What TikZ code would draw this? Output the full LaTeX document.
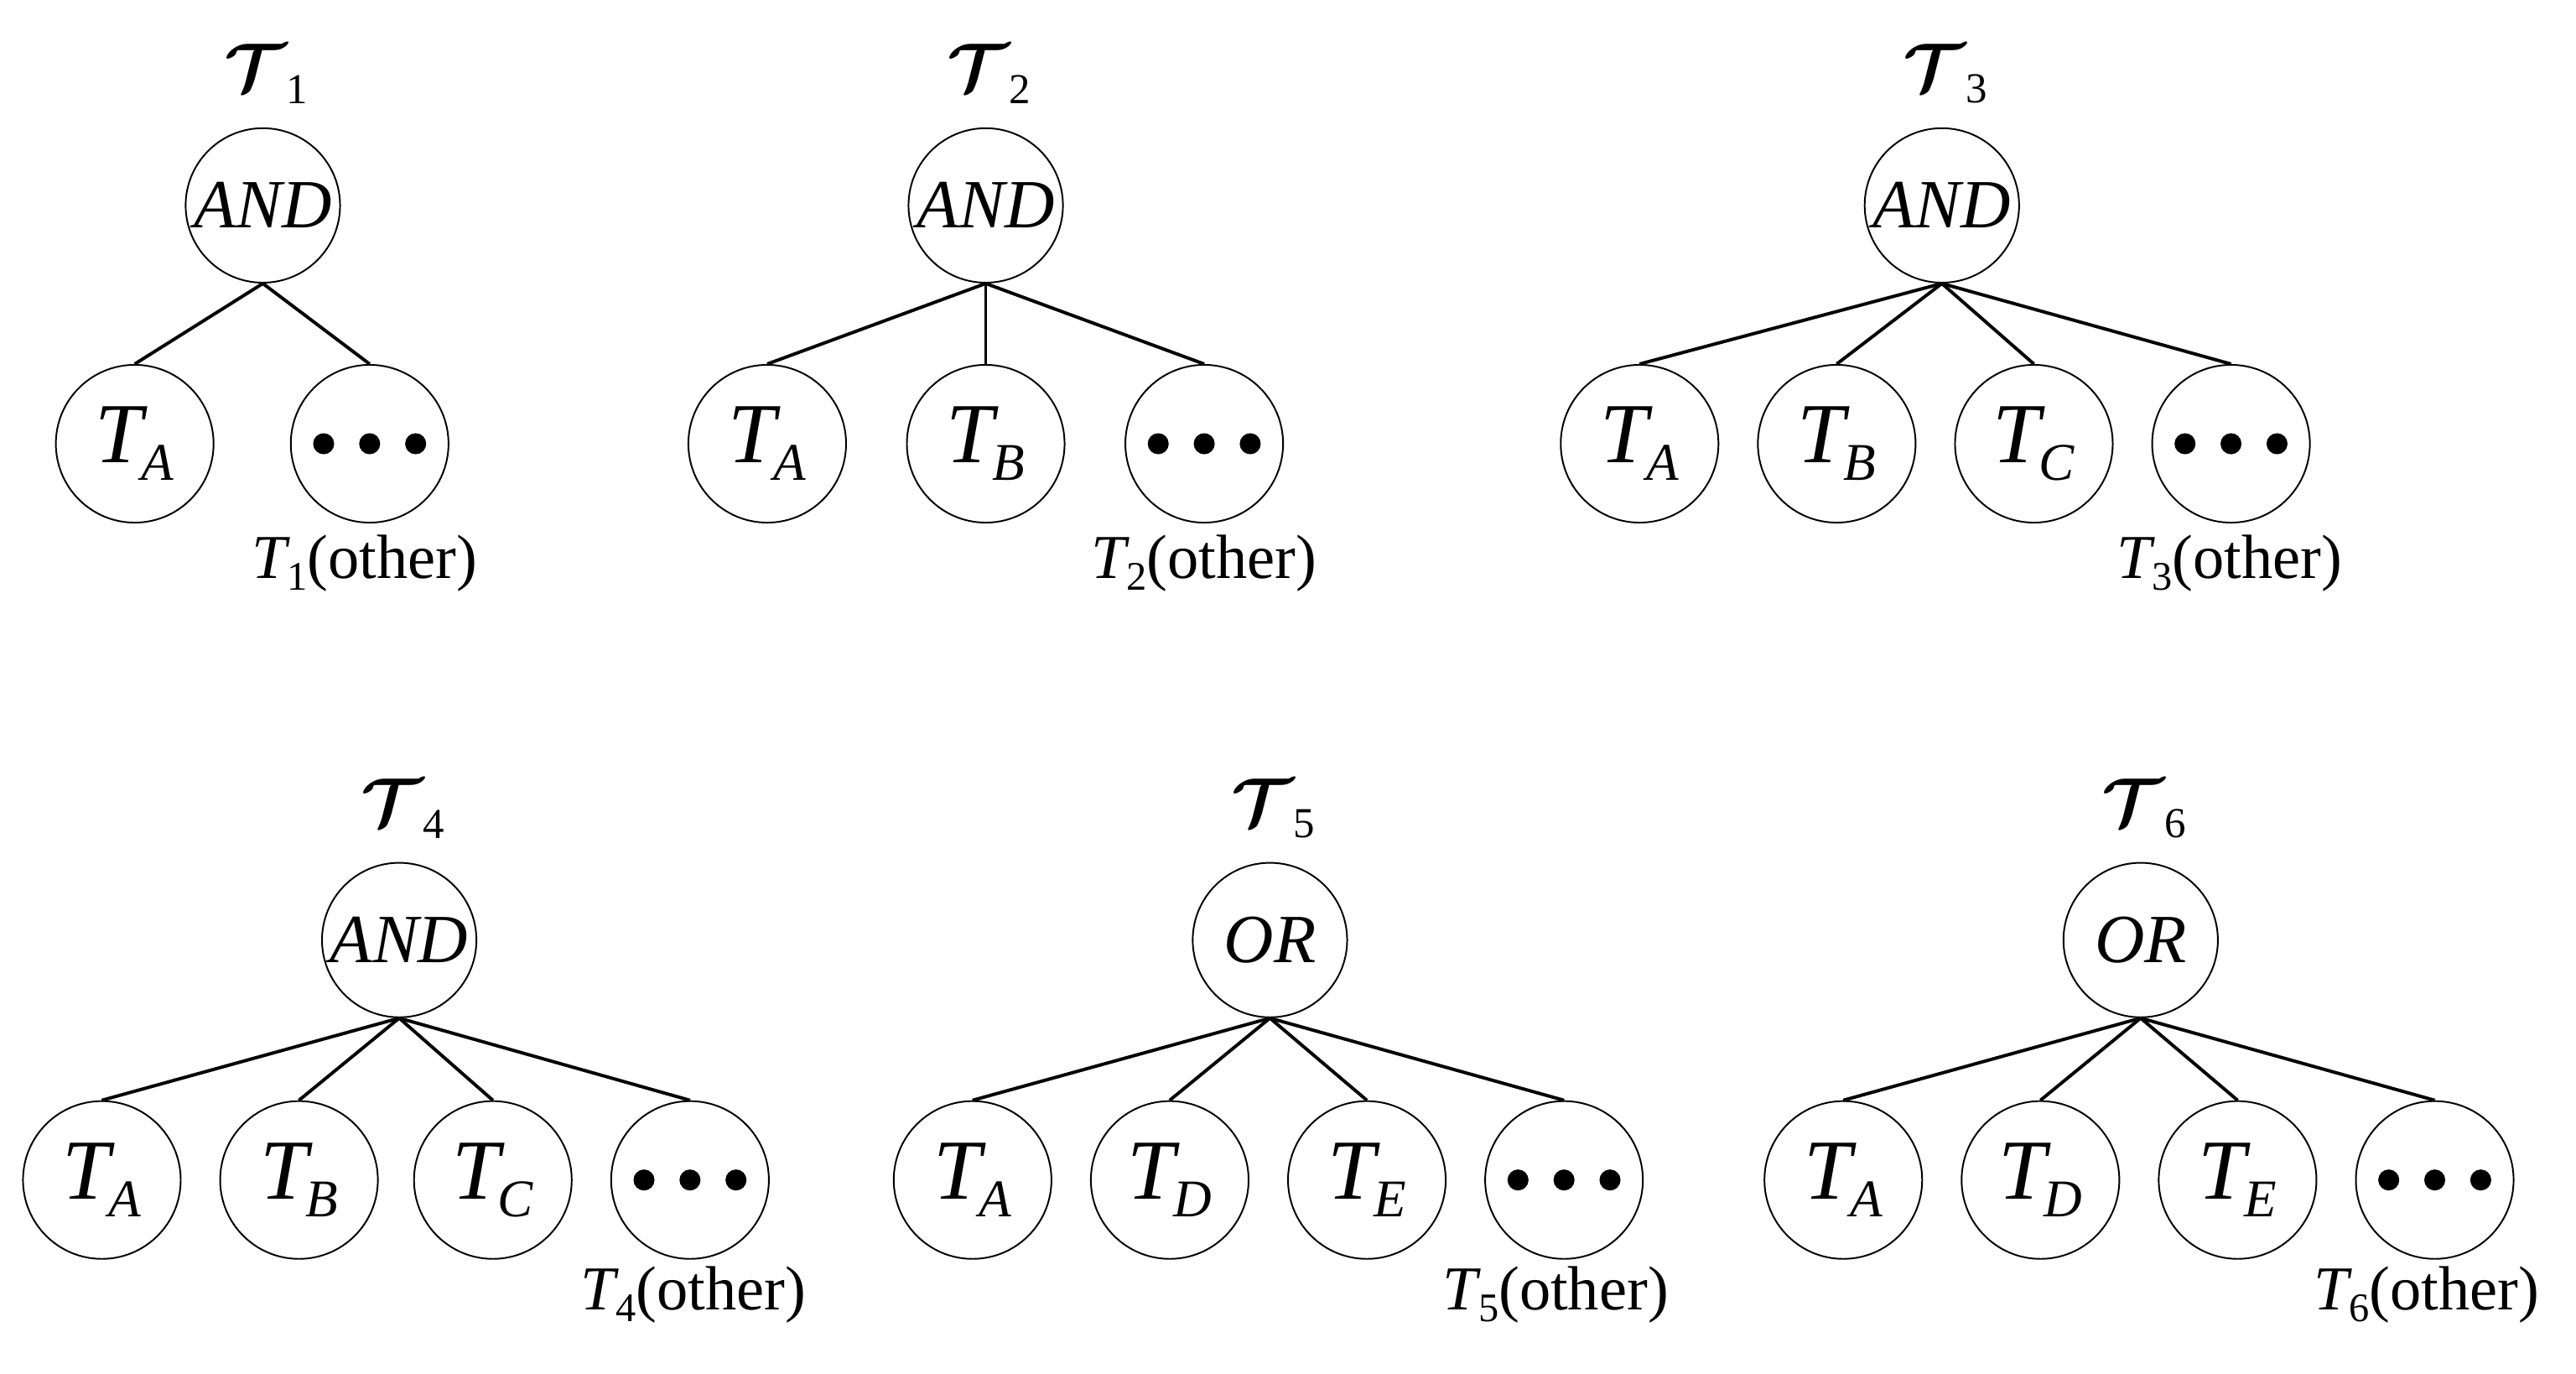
\documentclass[tikz,border=0pt]{standalone}
\usepackage{fontspec}
\usepackage{graphicx}
\usepackage{bm}
\setmainfont{Liberation Serif}
\newcommand{\Tl}[1]{\textit{T}\kern-0.08em\raisebox{-0.45ex}{\scalebox{0.62}{\textit{#1}}}}
\newcommand{\To}[1]{\textit{T}\kern-0.05em\raisebox{-0.4ex}{\scalebox{0.65}{#1}}(other)}
\newcommand{\Tau}[1]{$\bm{\mathcal{T}}$\raisebox{-0.4ex}{\scalebox{0.65}{#1}}}
\begin{document}
\begin{tikzpicture}[x=0.5pt,y=-0.5pt,
  gate/.style={draw,circle,line width=0.5pt,minimum size=47pt,inner sep=0pt,font=\fontsize{21}{24}\selectfont\itshape},
  leaf/.style={draw,circle,line width=0.5pt,minimum size=48pt,inner sep=0pt,font=\fontsize{26}{30}\selectfont},
  edge/.style={line width=1pt},
  lab/.style={font=\fontsize{19}{22}\selectfont,inner sep=0pt},
  ttl/.style={font=\fontsize{20}{24}\selectfont,inner sep=0pt}]
\useasboundingbox (0,0) rectangle (1568,836);
\newcommand{\dotsleaf}[2]{\node[leaf] (#1) at #2 {};
  \foreach \dx in {-14,0,14} \fill ([xshift=\dx pt]#1.center) circle (3.2pt);}
% tree 1
\node[ttl] (t1) at (162,45) {\Tau{1}};
\node[gate] (r1) at (160,125) {AND};
\node[leaf] (a1) at (82,270) {\Tl{A}};
\dotsleaf{o1}{(225,270)}
\node[lab] (l1) at (222,343) {\To{1}};
\foreach \c in {a1,o1} \draw[edge] (r1.south) -- (\c.north);
% tree 2
\node[ttl] (t2) at (602,45) {\Tau{2}};
\node[gate] (r2) at (600,125) {AND};
\node[leaf] (a2) at (467,270) {\Tl{A}};
\node[leaf] (b2) at (600,270) {\Tl{B}};
\dotsleaf{o2}{(733,270)}
\node[lab] (l2) at (733,343) {\To{2}};
\foreach \c in {a2,b2,o2} \draw[edge] (r2.south) -- (\c.north);
% tree 3
\node[ttl] (t3) at (1184,45) {\Tau{3}};
\node[gate] (r3) at (1182,125) {AND};
\node[leaf] (a3) at (998,270) {\Tl{A}};
\node[leaf] (b3) at (1118,270) {\Tl{B}};
\node[leaf] (c3) at (1238,270) {\Tl{C}};
\dotsleaf{o3}{(1358,270)}
\node[lab] (l3) at (1357,343) {\To{3}};
\foreach \c in {a3,b3,c3,o3} \draw[edge] (r3.south) -- (\c.north);
% tree 4
\node[ttl] (t4) at (245,492) {\Tau{4}};
\node[gate] (r4) at (243,572) {AND};
\node[leaf] (a4) at (62,718) {\Tl{A}};
\node[leaf] (b4) at (182,718) {\Tl{B}};
\node[leaf] (c4) at (300,718) {\Tl{C}};
\dotsleaf{o4}{(420,718)}
\node[lab] (l4) at (422,788) {\To{4}};
\foreach \c in {a4,b4,c4,o4} \draw[edge] (r4.south) -- (\c.north);
% tree 5
\node[ttl] (t5) at (775,492) {\Tau{5}};
\node[gate] (r5) at (773,572) {OR};
\node[leaf] (a5) at (592,718) {\Tl{A}};
\node[leaf] (b5) at (712,718) {\Tl{D}};
\node[leaf] (c5) at (832,718) {\Tl{E}};
\dotsleaf{o5}{(952,718)}
\node[lab] (l5) at (947,788) {\To{5}};
\foreach \c in {a5,b5,c5,o5} \draw[edge] (r5.south) -- (\c.north);
% tree 6
\node[ttl] (t6) at (1305,492) {\Tau{6}};
\node[gate] (r6) at (1303,572) {OR};
\node[leaf] (a6) at (1122,718) {\Tl{A}};
\node[leaf] (b6) at (1242,718) {\Tl{D}};
\node[leaf] (c6) at (1362,718) {\Tl{E}};
\dotsleaf{o6}{(1482,718)}
\node[lab] (l6) at (1477,788) {\To{6}};
\foreach \c in {a6,b6,c6,o6} \draw[edge] (r6.south) -- (\c.north);
\end{tikzpicture}
\end{document}
